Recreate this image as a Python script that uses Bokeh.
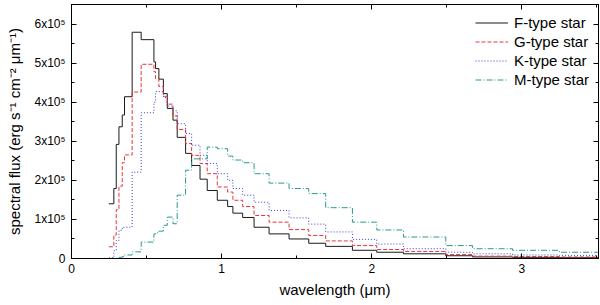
from bokeh.plotting import figure
from bokeh.models import FixedTicker, CustomJSTickFormatter, LinearAxis, Range1d
from bokeh.embed import file_html
from bokeh.resources import INLINE

# bin edges (micrometres)
edges = [0.249, 0.282, 0.298, 0.316, 0.338, 0.353, 0.404, 0.464, 0.549, 0.560,
         0.582, 0.612, 0.638, 0.676, 0.704, 0.760, 0.800, 0.856, 0.904, 0.971,
         1.040, 1.075, 1.140, 1.216, 1.316, 1.449, 1.580, 1.693, 1.871, 2.033,
         2.211, 2.493, 2.671, 2.938, 3.249, 3.51]

# spectral flux per bin, in units of 1e5 erg s^-1 cm^-2 um^-1
f_type = [1.40, 1.79, 2.92, 3.37, 3.67, 4.14, 5.79, 5.60, 5.03, 4.86,
          4.59, 4.22, 3.84, 3.54, 3.10, 2.69, 2.38, 2.03, 1.74, 1.49,
          1.33, 1.16, 1.05, 0.80, 0.63, 0.50, 0.39, 0.31, 0.21, 0.16,
          0.12, 0.07, 0.04, 0.03, 0.02]
g_type = [0.30, 0.60, 1.25, 1.85, 2.45, 2.65, 4.26, 4.97, 4.78, 4.60,
          4.40, 4.15, 3.95, 3.65, 3.30, 2.94, 2.64, 2.43, 2.17, 1.83,
          1.70, 1.49, 1.33, 1.10, 0.93, 0.74, 0.59, 0.45, 0.33, 0.23,
          0.18, 0.10, 0.06, 0.05, 0.04]
k_type = [0.02, 0.20, 0.46, 0.72, 0.80, 0.80, 2.21, 3.73, 4.00, 4.27,
          4.27, 4.12, 3.90, 3.78, 3.45, 3.20, 2.90, 2.64, 2.43, 2.17,
          2.00, 1.79, 1.62, 1.44, 1.23, 1.04, 0.88, 0.68, 0.49, 0.37,
          0.25, 0.16, 0.12, 0.09, 0.08]
m_type = [0.00, 0.00, 0.01, 0.03, 0.05, 0.09, 0.17, 0.42, 0.63, 0.66,
          0.70, 0.85, 1.06, 0.89, 1.62, 2.26, 2.55, 2.55, 2.85, 2.81,
          2.62, 2.52, 2.45, 2.17, 1.93, 1.79, 1.66, 1.30, 0.93, 0.73,
          0.55, 0.33, 0.25, 0.21, 0.16]

labels = ["F-type star", "G-type star", "K-type star", "M-type star"]
x_ticks = [0, 1, 2, 3]
x_minor = [0.5, 1.5, 2.5, 3.5]
y_ticks = [0, 1e5, 2e5, 3e5, 4e5, 5e5, 6e5]
y_minor = [0.5e5, 1.5e5, 2.5e5, 3.5e5, 4.5e5, 5.5e5, 6.5e5]

FONT = "Liberation Sans"

p = figure(width=600, height=305, output_backend="svg", toolbar_location=None,
           x_range=Range1d(0, 3.51), y_range=Range1d(0, 6.5e5),
           min_border_left=71, min_border_right=2, min_border_top=4,
           min_border_bottom=47)
p.background_fill_color = "white"
p.border_fill_color = "white"
p.outline_line_color = "black"
p.outline_line_width = 1
p.xgrid.visible = False
p.ygrid.visible = False

styles = [
    dict(color="#1a1a1a", dash="solid"),
    dict(color="#e8363a", dash="4 2"),
    dict(color="#3a3ad0", dash="1 2"),
    dict(color="#2a9a8e", dash="6 2 1 2"),
]
for vals, lab, st in zip([f_type, g_type, k_type, m_type], labels, styles):
    ys = [v * 1e5 for v in vals] + [vals[-1] * 1e5]
    p.step(x=edges, y=ys, mode="after", line_color=st["color"],
           line_dash=st["dash"], line_width=1, legend_label=lab)

ytick_fmt = CustomJSTickFormatter(code="""
    if (tick == 0) { return "0"; }
    return (tick / 1e5).toFixed(0) + "x10\u2075";
""")
blank_fmt = CustomJSTickFormatter(code="return '';")

xa = p.xaxis[0]
xa.ticker = FixedTicker(ticks=x_ticks, minor_ticks=x_minor)
ya = p.yaxis[0]
ya.ticker = FixedTicker(ticks=y_ticks, minor_ticks=y_minor)
ya.formatter = ytick_fmt

for ax in (xa, ya):
    ax.major_tick_in = 5
    ax.major_tick_out = 0
    ax.minor_tick_in = 3
    ax.minor_tick_out = 0
    ax.axis_line_color = "black"
    ax.major_tick_line_color = "black"
    ax.minor_tick_line_color = "black"
    ax.major_label_text_font = FONT
    ax.major_label_text_font_size = "12px"
    ax.major_label_text_color = "black"
    ax.axis_label_text_font = FONT
    ax.axis_label_text_font_size = "15px"
    ax.axis_label_text_font_style = "normal"
    ax.axis_label_text_color = "black"

xa.axis_label = "wavelength (\u03bcm)"
xa.axis_label_standoff = 5
xa.major_label_standoff = 5
ya.axis_label = "spectral flux (erg s\u207b\u00b9 cm\u207b\u00b2 \u03bcm\u207b\u00b9)"
ya.axis_label_standoff = 9
ya.major_label_standoff = 6

right = LinearAxis(ticker=FixedTicker(ticks=y_ticks, minor_ticks=y_minor),
                   formatter=blank_fmt)
top = LinearAxis(ticker=FixedTicker(ticks=x_ticks, minor_ticks=x_minor),
                 formatter=blank_fmt)
for ax in (right, top):
    ax.major_tick_in = 5
    ax.major_tick_out = 0
    ax.minor_tick_in = 3
    ax.minor_tick_out = 0
    ax.major_label_standoff = 0
    ax.axis_label_standoff = 0
    ax.major_label_text_font_size = "0px"
    ax.axis_line_color = "black"
p.add_layout(right, "right")
p.add_layout(top, "above")

lg = p.legend[0]
lg.location = "top_right"
lg.border_line_color = None
lg.background_fill_alpha = 0
lg.label_text_font = FONT
lg.label_text_font_size = "15px"
lg.label_text_color = "black"
lg.glyph_width = 33
lg.glyph_height = 19
lg.label_height = 19
lg.spacing = 0
lg.padding = 4
lg.margin = 9
lg.label_standoff = 6

open("out.html", "w").write(file_html(p, INLINE))
